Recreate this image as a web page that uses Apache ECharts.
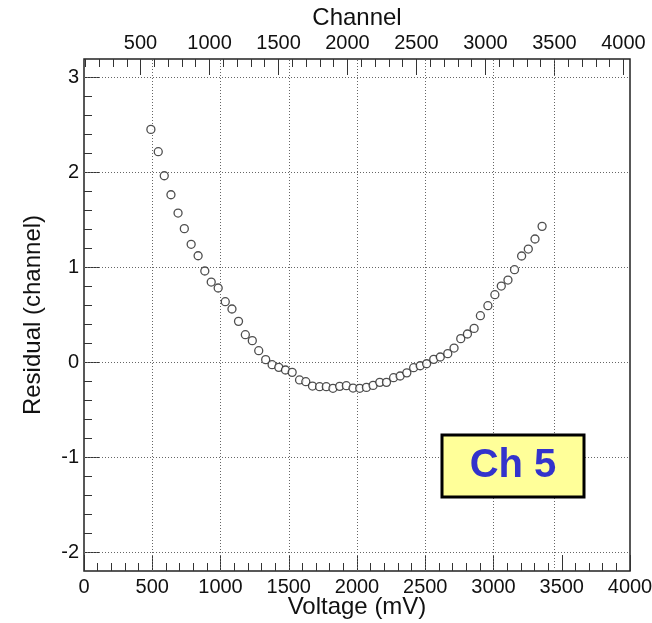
<!DOCTYPE html>
<html><head><meta charset="utf-8">
<script src="https://cdn.jsdelivr.net/npm/echarts@6/dist/echarts.min.js"></script>
<style>html,body{margin:0;padding:0;background:#fff}#c{width:652px;height:623px}</style>
</head><body><div id="c"></div>
<script>
const voltage = [490,544,588,637,689,735,785,836,885,932,983,1035,1084,1132,1182,1233,1280,1331,
  1378,1427,1476,1525,1579,1625,1674,1726,1775,1824,1873,1922,1971,2020,2069,2118,2167,2216,2268,2316,2365,
  2415,2463,2510,2562,2610,2665,2711,2760,2809,2858,2904,2959,3010,3057,3106,3154,3206,3255,3304,3356];
const residual = [2.449,2.214,1.961,1.761,1.568,1.404,1.239,1.119,0.958,0.842,0.779,0.635,0.558,0.428,0.288,0.225,0.119,0.025,
  -0.028,-0.056,-0.084,-0.109,-0.189,-0.207,-0.253,-0.260,-0.260,-0.277,-0.256,-0.249,-0.274,-0.277,-0.267,-0.246,-0.214,-0.214,-0.165,-0.147,-0.114,
  -0.060,-0.039,-0.018,0.028,0.053,0.088,0.147,0.246,0.295,0.354,0.488,0.593,0.709,0.800,0.863,0.972,1.116,1.189,1.295,1.428];
const chanTicks = [500,1000,1500,2000,2500,3000,3500,4000];
const chanMinorTicks = [100,200,300,400,600,700,800,900,1100,1200,1300,1400,1600,1700,1800,1900,
  2100,2200,2300,2400,2600,2700,2800,2900,3100,3200,3300,3400,3600,3700,3800,3900];
const yTicks = [-2,-1,0,1,2,3];
const yMinorTicks = [-1.8,-1.6,-1.4,-1.2,-0.8,-0.6,-0.4,-0.2,0.2,0.4,0.6,0.8,1.2,1.4,1.6,1.8,2.2,2.4,2.6,2.8];
const vGridLines = [500,1000,1500,2000,2500,3000,3445];
const boxLabel = 'Ch 5';

const FONT = 'Liberation Sans, Arial, sans-serif';
const tickStyle = {color:'#333', width:1};
const plain = v => String(v);
const chart = echarts.init(document.getElementById('c'), null, {renderer:'canvas'});
const chanRange = {min:90, max:4048};
const yRange = {min:-2.2, max:3.19};

chart.setOption({
  animation:false,
  grid:{left:84, right:22, top:59, bottom:52, show:true, borderColor:'#222', borderWidth:1.5,
        backgroundColor:'transparent', containLabel:false, outerBoundsMode:'none'},
  xAxis:[
    {type:'value', position:'bottom', min:0, max:4000, interval:500,
     name:'Voltage (mV)', nameLocation:'middle', nameGap:24, nameMoveOverlap:false,
     nameTextStyle:{fontFamily:FONT, fontSize:24, color:'#111'},
     axisLine:{show:false, onZero:false}, splitLine:{show:false},
     axisTick:{show:true, inside:true, length:16, lineStyle:tickStyle},
     minorTick:{show:true, splitNumber:5, length:8, lineStyle:tickStyle},
     axisLabel:{fontFamily:FONT, fontSize:20, color:'#111', margin:6, formatter:plain, showMinLabel:true, showMaxLabel:true}},
    {type:'value', position:'top', min:chanRange.min, max:chanRange.max,
     name:'Channel', nameLocation:'middle', nameGap:29, nameMoveOverlap:false,
     nameTextStyle:{fontFamily:FONT, fontSize:24, color:'#111'},
     axisLine:{show:false, onZero:false}, splitLine:{show:false},
     axisTick:{show:true, inside:true, length:16, lineStyle:tickStyle, customValues:chanTicks},
     axisLabel:{fontFamily:FONT, fontSize:20, color:'#111', margin:6, formatter:plain, customValues:chanTicks}},
    {type:'value', position:'top', min:chanRange.min, max:chanRange.max,
     axisLine:{show:false, onZero:false}, splitLine:{show:false},
     axisTick:{show:true, inside:true, length:8, lineStyle:tickStyle, customValues:chanMinorTicks},
     axisLabel:{show:false}}
  ],
  yAxis:[
    {type:'value', position:'left', min:yRange.min, max:yRange.max,
     name:'Residual (channel)', nameLocation:'middle', nameGap:39, nameMoveOverlap:false,
     nameTextStyle:{fontFamily:FONT, fontSize:24, color:'#111'},
     axisLine:{show:false, onZero:false}, splitLine:{show:false},
     axisTick:{show:true, inside:true, length:16, lineStyle:tickStyle, customValues:yTicks},
     axisLabel:{fontFamily:FONT, fontSize:20, color:'#111', margin:5, formatter:plain, customValues:yTicks}},
    {type:'value', position:'left', min:yRange.min, max:yRange.max,
     axisLine:{show:false, onZero:false}, splitLine:{show:false},
     axisTick:{show:true, inside:true, length:8, lineStyle:tickStyle, customValues:yMinorTicks},
     axisLabel:{show:false}}
  ],
  series:[{
    type:'scatter', xAxisIndex:0, yAxisIndex:0, z:2,
    data: voltage.map((v,i)=>[v, residual[i]]),
    symbol:'circle', symbolSize:8,
    itemStyle:{color:'#fff', borderColor:'#222', borderWidth:1.3},
    emphasis:{disabled:true},
    markLine:{
      silent:true, z:1, symbol:['none','none'], label:{show:false},
      lineStyle:{type:[1,2], color:'#666', width:1},
      emphasis:{disabled:true},
      data:[...vGridLines.map(v=>({xAxis:v})), ...yTicks.map(v=>({yAxis:v}))]
    }
  }],
  graphic:[
    {type:'rect', z:10, shape:{x:442, y:435, width:142, height:62},
     style:{fill:'#ffff99', stroke:'#000', lineWidth:3}},
    {type:'text', z:11, x:513, y:466,
     style:{text:boxLabel, font:'bold 40px ' + FONT, fill:'#3333cc', align:'center', verticalAlign:'middle'}}
  ]
});
</script></body></html>
